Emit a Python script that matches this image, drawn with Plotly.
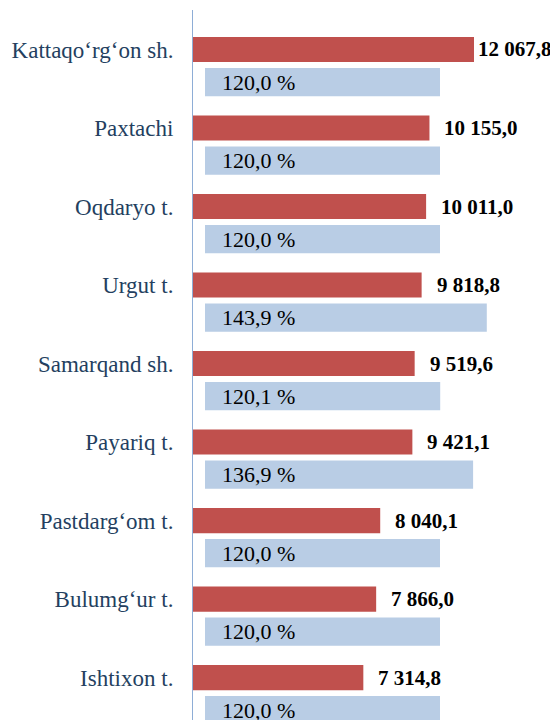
import plotly.graph_objects as go

districts = ["Kattaqo‘rg‘on sh.", "Paxtachi", "Oqdaryo t.", "Urgut t.", "Samarqand sh.",
             "Payariq t.", "Pastdarg‘om t.", "Bulumg‘ur t.", "Ishtixon t."]
values = [12067.8, 10155.0, 10011.0, 9818.8, 9519.6, 9421.1, 8040.1, 7866.0, 7314.8]
growth_pct = [120.0, 120.0, 120.0, 143.9, 120.1, 136.9, 120.0, 120.0, 120.0]


def fmt_val(v):
    return f"{v:,.1f}".replace(",", " ").replace(".", ",")


def fmt_pct(p):
    return f"{p:.1f}".replace(".", ",") + " %"


idx = list(range(len(districts)))
# page body has an 8px margin; the figure is sized to fill the rest of the window
W, H = 550, 712
ML = 185
plot_w = W - ML
px_per_val = 281 / 12067.8
px_per_pct = 235 / 120.0
blue_off = 12
label_w = 82

fig = go.Figure()
fig.add_trace(go.Bar(
    y=idx, x=values, orientation="h", width=0.32, offset=-0.16,
    marker=dict(color="#C0504D", line=dict(width=0)),
    xaxis="x", yaxis="y", hoverinfo="skip"))
fig.add_trace(go.Bar(
    y=idx, x=growth_pct, orientation="h", width=0.36, offset=0.235,
    marker=dict(color="#B9CDE5", line=dict(width=0)),
    xaxis="x2", yaxis="y", hoverinfo="skip"))

ann = []
for i, (v, p) in enumerate(zip(values, growth_pct)):
    end_px = v * px_per_val
    shift = min(13, plot_w - label_w - end_px)
    ann.append(dict(x=v, y=i, xref="x", yref="y", text=f"<b>{fmt_val(v)}</b>",
                    showarrow=False, xanchor="left", yanchor="middle", xshift=shift,
                    font=dict(family="Liberation Serif", size=21, color="#000000")))
    ann.append(dict(x=0, y=i + 0.415, xref="x2", yref="y", text=fmt_pct(p),
                    showarrow=False, xanchor="left", yanchor="middle", xshift=15,
                    font=dict(family="Liberation Serif", size=22, color="#000000")))

fig.update_layout(
    width=W, height=H,
    margin=dict(l=ML, r=0, t=2, b=0),
    plot_bgcolor="rgba(0,0,0,0)", paper_bgcolor="white",
    showlegend=False, barmode="overlay",
    xaxis=dict(range=[0, plot_w / px_per_val], visible=False, domain=[0, 1]),
    xaxis2=dict(range=[0, (plot_w - blue_off) / px_per_pct], visible=False,
                domain=[blue_off / plot_w, 1], anchor="y"),
    yaxis=dict(range=[8.54, -0.503], tickmode="array", tickvals=idx, ticktext=districts,
               showgrid=False, zeroline=False, showline=True, linecolor="#8EADD6",
               linewidth=1, ticks="", ticklabelstandoff=14, anchor="x",
               tickfont=dict(family="Liberation Serif", size=23, color="#243F60")),
    annotations=ann,
)

fig.write_html("out.html")
